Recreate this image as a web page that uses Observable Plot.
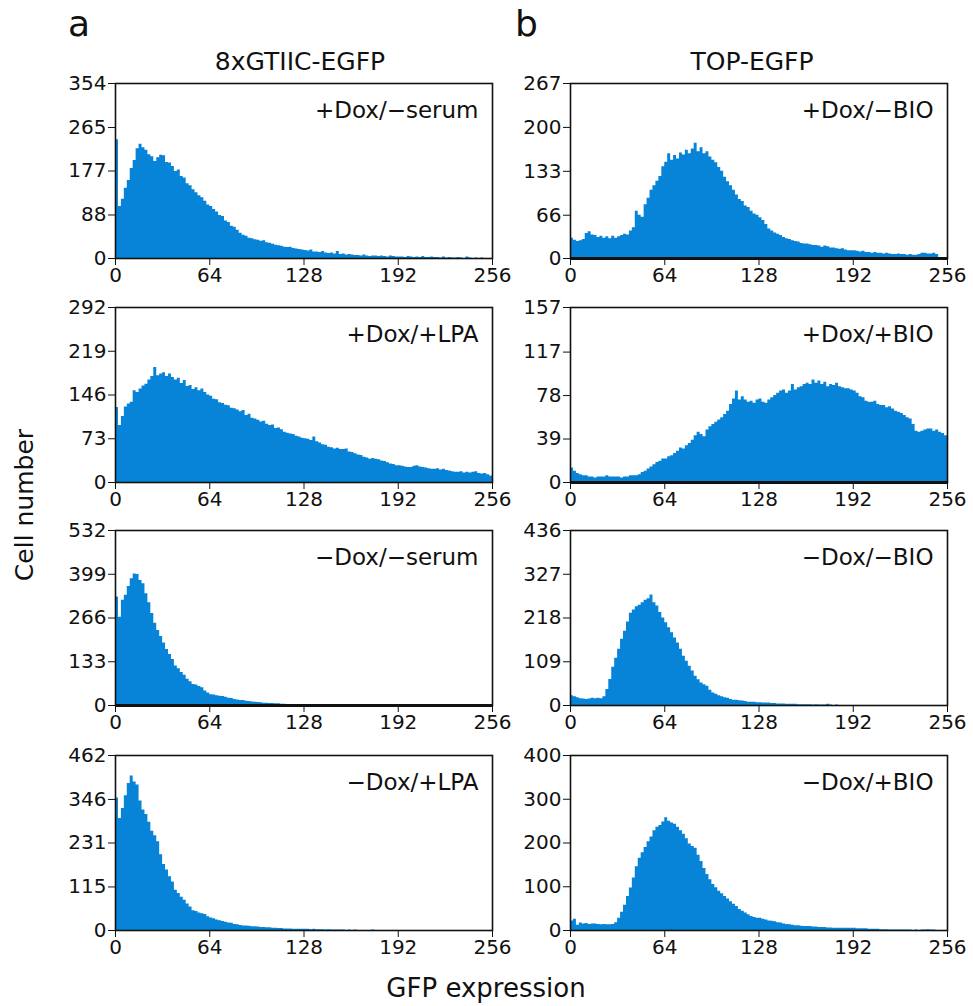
<!DOCTYPE html>
<html><head><meta charset="utf-8">
<script src="https://cdn.jsdelivr.net/npm/d3@7"></script>
<script src="https://cdn.jsdelivr.net/npm/@observablehq/plot@0.6"></script>
<style>
body{margin:0;background:#fff;}
#root{position:relative;width:973px;height:1006px;overflow:hidden;background:#fff;}
.panel{position:absolute;}
#overlay{position:absolute;left:0;top:0;pointer-events:none;}
</style></head><body><div id="root"></div>
<script>
// ---------- data ----------
const xTicks = [0, 64, 128, 192, 256];
const binWidth = 2; // GFP units per histogram bin (128 bins, 0..256)
const columnTitles = ["8xGTIIC-EGFP", "TOP-EGFP"];
const panelLetters = ["a", "b"];
const labelsA = ["+Dox/\u2212serum", "+Dox/+LPA", "\u2212Dox/\u2212serum", "\u2212Dox/+LPA"];
const labelsB = ["+Dox/\u2212BIO", "+Dox/+BIO", "\u2212Dox/\u2212BIO", "\u2212Dox/+BIO"];
const yTicksA = [[0, 88, 177, 265, 354], [0, 73, 146, 219, 292], [0, 133, 266, 399, 532], [0, 115, 231, 346, 462]];
const yTicksB = [[0, 66, 133, 200, 267], [0, 39, 78, 117, 157], [0, 109, 218, 327, 436], [0, 100, 200, 300, 400]];
const yAxisTitle = "Cell number";
const xAxisTitle = "GFP expression";

const countsA1 = [
 240,105,120,142,158,182,198,222,231,224,219,210,206,196,204,209,
 208,194,193,186,176,179,166,163,151,147,139,133,127,123,116,108,
 105,99,94,87,85,76,73,65,63,57,51,47,45,41,40,38,
 37,35,36,32,31,29,27,26,25,23,22,23,20,19,18,17,
 16,15,17,13,13,12,14,11,10,11,9,14,8,9,7,8,
 7,6,6,5,7,5,4,5,5,4,5,4,3,5,4,3,
 3,3,2,4,3,2,3,2,4,2,2,3,2,2,1,3,
 1,2,1,1,2,1,0,3,1,0,1,0,1,0,0,0];
const countsB1 = [
 31,28,26,27,29,38,41,36,35,32,34,31,33,30,34,31,
 33,35,37,36,42,47,72,66,63,82,92,104,111,118,125,140,
 147,160,150,157,152,161,158,165,160,167,176,163,169,160,163,155,
 150,146,139,133,124,117,111,104,97,90,87,80,78,72,68,66,
 62,58,52,45,42,39,37,35,32,30,29,27,26,25,23,22,
 22,21,20,20,19,17,19,18,16,16,15,14,15,13,12,12,
 12,11,10,11,9,9,8,9,8,8,7,8,7,6,6,7,
 6,6,5,6,5,5,6,8,8,7,7,8,6,0,0,0];
const countsA2 = [
 125,95,110,126,131,134,153,150,156,161,164,171,177,192,178,181,
 183,177,181,175,171,174,165,170,160,162,155,158,153,156,150,146,
 144,139,138,133,132,129,128,124,123,121,118,120,112,114,107,106,
 104,101,102,97,95,96,90,91,88,84,82,81,80,77,76,74,
 73,72,70,76,68,66,63,62,59,58,56,57,55,55,56,51,
 50,48,46,45,42,41,39,40,39,38,36,35,33,31,30,28,
 28,27,26,25,25,27,28,26,25,24,23,22,22,23,21,22,
 20,19,18,17,17,18,16,17,16,17,18,15,14,15,13,11];
const countsB2 = [
 13,10,8,7,6,6,5,5,4,5,5,5,6,5,5,5,
 5,4,5,5,6,6,6,7,9,10,12,14,16,18,19,21,
 21,23,24,26,28,31,30,33,35,38,42,45,43,41,47,50,
 52,54,56,58,61,64,70,75,82,74,77,74,72,73,71,74,
 75,72,71,74,76,78,80,82,83,80,82,88,83,85,86,88,
 89,88,92,89,91,88,90,86,88,87,89,86,85,84,84,83,
 82,80,77,76,73,72,72,73,70,69,69,67,68,66,64,63,
 62,60,58,57,52,46,45,46,47,48,48,46,47,45,44,42];
const countsA3 = [
 330,268,320,335,362,385,400,398,380,370,340,312,280,250,228,210,
 190,170,155,140,120,112,100,92,80,72,64,62,58,54,44,38,
 33,32,30,28,27,25,22,21,18,17,15,15,13,12,11,10,
 9,8,7,7,6,6,5,5,4,4,3,3,3,2,2,2,
 2,1,1,1,1,1,1,0,1,0,0,0,0,0,0,0,
 0,0,0,0,0,0,0,0,0,0,0,0,0,0,0,0,
 0,0,0,0,0,0,0,0,0,0,0,0,0,0,0,0,
 0,0,0,0,0,0,0,0,0,0,0,0,0,0,0,0];
const countsB3 = [
 24,22,19,17,16,15,16,18,17,18,17,22,40,65,95,118,
 140,165,185,208,230,238,246,250,256,262,266,275,256,248,232,218,
 206,194,181,168,156,140,123,110,98,86,73,64,56,52,48,38,
 31,28,24,22,19,18,15,13,13,12,11,10,8,8,8,7,
 7,6,6,6,5,5,4,4,4,3,3,3,3,2,2,2,
 2,2,1,2,1,1,1,3,1,0,1,0,0,0,0,0,
 0,0,0,0,0,0,0,0,0,0,0,0,0,0,0,0,
 0,0,0,0,0,0,0,0,0,0,0,0,0,0,0,0];
const countsA4 = [
 350,296,322,356,388,408,392,384,342,318,306,286,262,250,234,200,
 174,160,142,128,106,98,88,80,70,62,52,50,46,44,42,36,
 33,31,28,26,24,22,20,19,16,15,13,12,12,11,10,10,
 9,8,8,7,7,6,6,5,5,4,4,4,3,3,3,3,
 3,3,2,3,2,2,2,1,2,1,1,1,1,1,0,1,
 0,1,0,0,0,0,0,1,0,0,0,0,0,0,0,0,
 0,0,0,0,0,0,0,0,0,0,0,0,0,0,0,0,
 0,0,0,0,0,0,0,0,0,0,0,0,0,0,0,0];
const countsB4 = [
 22,26,12,17,15,16,14,15,15,14,13,14,13,13,14,18,
 28,42,58,78,97,120,146,165,178,190,203,214,228,236,240,248,
 258,250,246,243,236,228,220,210,198,192,188,172,158,142,128,116,
 105,98,90,84,78,72,66,60,55,48,44,40,36,32,30,28,
 28,26,24,22,21,20,18,17,15,14,13,12,11,11,10,9,
 9,9,8,8,7,7,7,6,6,5,5,5,5,5,5,5,
 5,4,4,4,4,3,3,3,3,2,2,2,1,1,1,1,
 1,1,1,1,0,1,0,1,1,2,1,1,0,0,0,0];

const countsA = [countsA1, countsA2, countsA3, countsA4];
const countsB = [countsB1, countsB2, countsB3, countsB4];

// ---------- layout ----------
const FILL = "#0783d8";
const INK = "#111";
const FONT = "DejaVu Sans";
const W = 457, H = 220, ML = 60, MR = 20, MT = 10, MB = 35;
const colFrameLeft = [115, 570];
const rowFrameTop = [83, 307, 530, 755];
const root = document.getElementById("root");

function panel(counts, yTicks, label, left, top, heavyBase) {
  const pts = counts.map((v, i) => ({x: i * binWidth, y: v}));
  pts.push({x: counts.length * binWidth, y: counts[counts.length - 1]});
  const marks = [
    Plot.areaY(pts, {x: "x", y: "y", curve: "step-after", fill: FILL}),
    Plot.axisX({ticks: xTicks, tickSize: 7, tickPadding: 2, fontSize: 20, label: null}),
    Plot.axisY({ticks: yTicks, tickSize: 7, tickPadding: 2, fontSize: 20, label: null}),
    Plot.frame({stroke: INK, strokeWidth: 1.6}),
    Plot.text([label], {frameAnchor: "top-right", dx: -14, dy: 27, fontSize: 23, lineAnchor: "middle", fill: INK})
  ];
  if (heavyBase) marks.push(Plot.ruleY([0], {stroke: INK, strokeWidth: 3}));
  const svg = Plot.plot({
    width: W, height: H, marginLeft: ML, marginRight: MR, marginTop: MT, marginBottom: MB,
    x: {domain: [0, 256]},
    y: {domain: [0, yTicks[yTicks.length - 1]]},
    style: {fontFamily: FONT, fontSize: "20px", color: INK, background: "transparent", overflow: "visible"},
    marks
  });
  svg.classList.add("panel");
  svg.style.left = left + "px";
  svg.style.top = top + "px";
  root.appendChild(svg);
}

for (let r = 0; r < 4; r++) {
  panel(countsA[r], yTicksA[r], labelsA[r], colFrameLeft[0] - ML, rowFrameTop[r] - MT, r === 2);
  panel(countsB[r], yTicksB[r], labelsB[r], colFrameLeft[1] - ML, rowFrameTop[r] - MT, r < 2);
}

// ---------- text overlay ----------
const ov = d3.select(root).append("svg").attr("id", "overlay").attr("width", 973).attr("height", 1006)
  .style("font-family", FONT).attr("fill", INK);
ov.append("text").attr("x", 68).attr("y", 36).attr("font-size", 36).text(panelLetters[0]);
ov.append("text").attr("x", 515).attr("y", 36).attr("font-size", 36).text(panelLetters[1]);
ov.append("text").attr("x", 300).attr("y", 70).attr("font-size", 25).attr("text-anchor", "middle").text(columnTitles[0]);
ov.append("text").attr("x", 752).attr("y", 70).attr("font-size", 25).attr("text-anchor", "middle").text(columnTitles[1]);
ov.append("text").attr("transform", "translate(33,505) rotate(-90)").attr("font-size", 25).attr("text-anchor", "middle").text(yAxisTitle);
ov.append("text").attr("x", 486).attr("y", 997).attr("font-size", 26).attr("text-anchor", "middle").text(xAxisTitle);
</script></body></html>
